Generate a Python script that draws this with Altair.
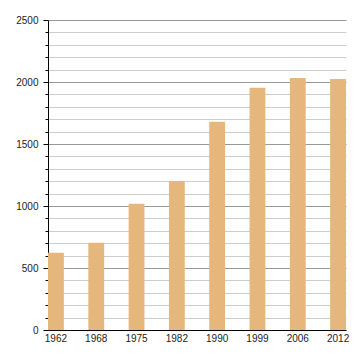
import altair as alt
import pandas as pd

years = ["1962", "1968", "1975", "1982", "1990", "1999", "2006", "2012"]
values = [622, 704, 1019, 1202, 1680, 1953, 2032, 2024]

df = pd.DataFrame({"year": years, "value": values})

font = "Liberation Sans"

chart = alt.Chart(df).mark_bar(color="#e5b77d").encode(
    x=alt.X(
        "year:N",
        sort=years,
        scale=alt.Scale(paddingInner=0.607, paddingOuter=0),
        axis=alt.Axis(
            title=None, ticks=False, labelAngle=0, labelPadding=3,
            domainColor="#000", labelFont=font, labelFontSize=10,
            labelColor="#222", grid=False,
        ),
    ),
    y=alt.Y(
        "value:Q",
        scale=alt.Scale(domain=[0, 2500], nice=False),
        axis=alt.Axis(
            title=None,
            values=list(range(0, 2501, 100)),
            labelExpr="datum.value % 500 === 0 ? datum.label : ''",
            format="d",
            grid=True,
            gridColor={"condition": {"test": "datum.value % 500 === 0", "value": "#999999"}, "value": "#cccccc"},
            gridWidth=1,
            tickColor="#000",
            tickSize={"condition": {"test": "datum.value % 500 === 0", "value": 5}, "value": 3},
            labelPadding=5,
            domainColor="#000",
            labelFont=font, labelFontSize=10, labelColor="#222",
        ),
    ),
).properties(
    width=298,
    height=310,
    autosize=alt.AutoSizeParams(type="none"),
    padding={"left": 40, "top": 12, "right": 6, "bottom": 14},
).configure_view(stroke=None)

chart.save("out.html", embed_options={"renderer": "svg", "actions": False})
